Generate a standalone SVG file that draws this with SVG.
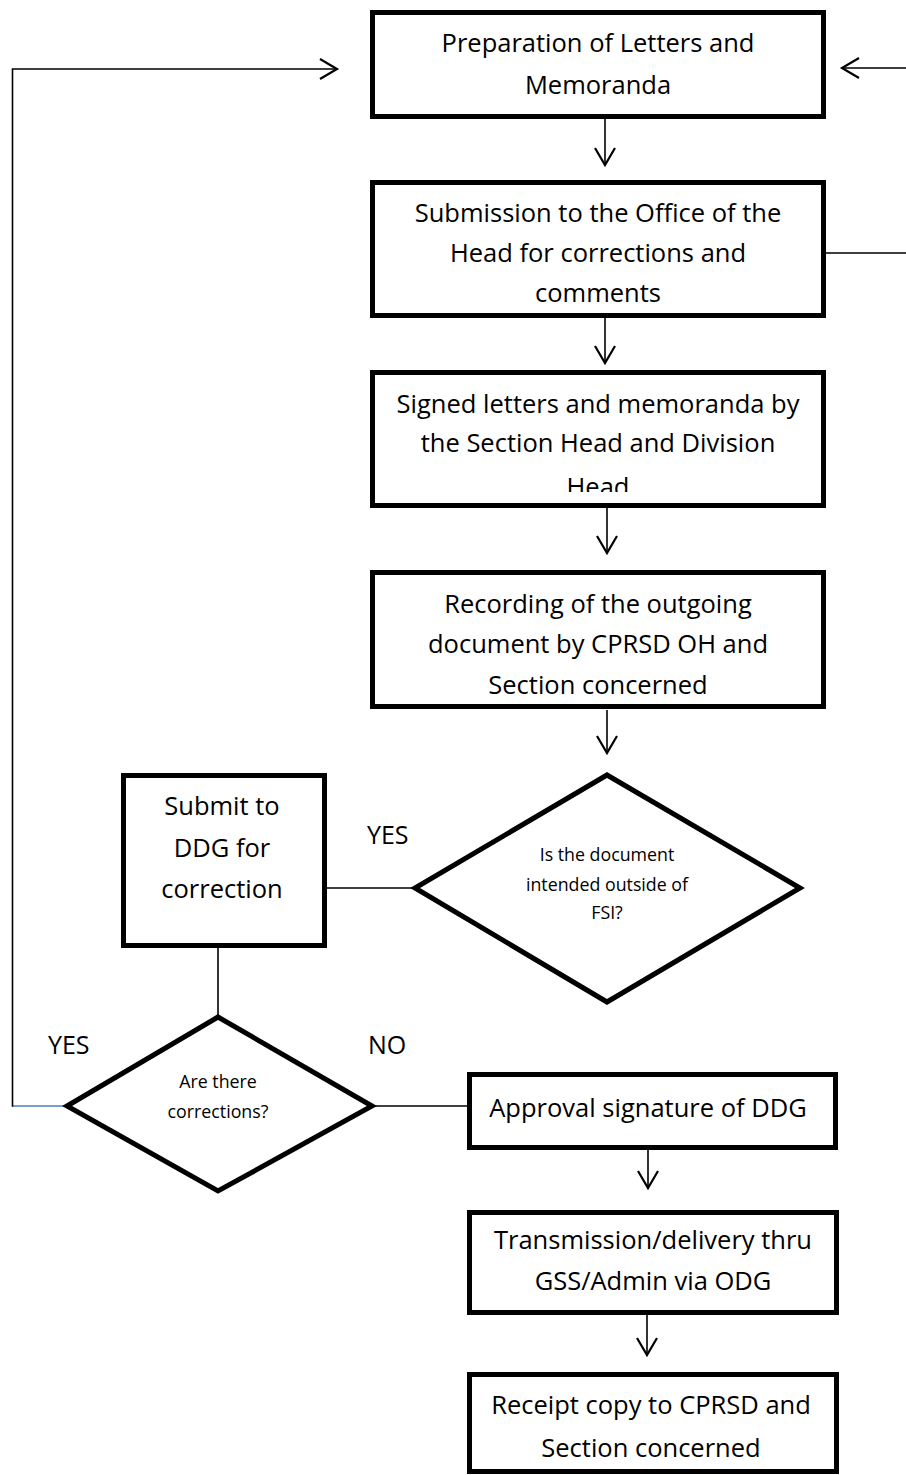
<svg xmlns="http://www.w3.org/2000/svg" width="906" height="1475" viewBox="0 0 906 1475">
  <style>
    .box { fill: #ffffff; stroke: #000000; stroke-width: 5; }
    .dia { fill: #ffffff; stroke: #000000; stroke-width: 5; stroke-linejoin: miter; }
    .lbl { font-family: "Open Sans", "Noto Sans", sans-serif; font-size: 25.5px; fill: #000000; text-anchor: middle; }
    .small { font-family: "Open Sans", "Noto Sans", sans-serif; font-size: 17.8px; fill: #000000; text-anchor: middle; }
    .tag { font-family: "Open Sans", "Noto Sans", sans-serif; font-size: 25px; fill: #000000; }
    .wire { fill: none; stroke: #000000; stroke-width: 1.6; }
    .arrow { fill: none; stroke: #000000; stroke-width: 1.6; marker-end: url(#openHead); }
  </style>
  <defs>
    <marker id="openHead" markerUnits="userSpaceOnUse" markerWidth="24" markerHeight="24" viewBox="-20 -12 24 24" refX="0" refY="0" orient="auto">
      <path d="M -17 -10 L 0 0 L -17 10" fill="none" stroke="#000000" stroke-width="2.2"/>
    </marker>
    <clipPath id="clipSigned">
      <rect x="375" y="375" width="446" height="117"/>
    </clipPath>
  </defs>

  <rect width="906" height="1475" fill="#ffffff"/>

  <!-- connectors -->
  <g id="connectors">
    <line class="arrow" x1="605" y1="119" x2="605" y2="165"/>
    <line class="arrow" x1="605" y1="318" x2="605" y2="363"/>
    <line class="arrow" x1="607" y1="508" x2="607" y2="553"/>
    <line class="arrow" x1="607" y1="710" x2="607" y2="753"/>
    <line class="arrow" x1="648" y1="1150" x2="648" y2="1188"/>
    <line class="arrow" x1="647" y1="1315" x2="647" y2="1355"/>
    <!-- feedback loop from the review box back to preparation (runs past the right edge) -->
    <polyline class="arrow" points="826,253 912,253 912,68 842,68"/>
    <!-- YES branch of the outside-FSI decision -->
    <line class="wire" x1="413" y1="888" x2="327" y2="888"/>
    <line class="wire" x1="218" y1="948" x2="218" y2="1016"/>
    <!-- NO branch to approval -->
    <line class="wire" x1="375" y1="1106" x2="467" y2="1106"/>
    <!-- YES branch back to preparation -->
    <line x1="12.5" y1="1106" x2="65" y2="1106" stroke="#4a7ebb" stroke-width="1.6"/>
    <polyline class="arrow" points="12.5,1106.8 12.5,69 337,69"/>
  </g>

  <g id="prep">
    <rect class="box" x="372.5" y="12.5" width="451" height="104"/>
    <text class="lbl" x="598" y="52">Preparation of Letters and</text>
    <text class="lbl" x="598" y="94">Memoranda</text>
  </g>

  <g id="submission">
    <rect class="box" x="372.5" y="182.5" width="451" height="133"/>
    <text class="lbl" x="598" y="222">Submission to the Office of the</text>
    <text class="lbl" x="598" y="262">Head for corrections and</text>
    <text class="lbl" x="598" y="302">comments</text>
  </g>

  <g id="signed">
    <rect class="box" x="372.5" y="372.5" width="451" height="133"/>
    <g clip-path="url(#clipSigned)">
      <text class="lbl" x="598" y="413">Signed letters and memoranda by</text>
      <text class="lbl" x="598" y="452">the Section Head and Division</text>
      <text class="lbl" x="598" y="496">Head</text>
    </g>
  </g>

  <g id="recording">
    <rect class="box" x="372.5" y="572.5" width="451" height="134"/>
    <text class="lbl" x="598" y="613">Recording of the outgoing</text>
    <text class="lbl" x="598" y="653">document by CPRSD OH and</text>
    <text class="lbl" x="598" y="694">Section concerned</text>
  </g>

  <g id="outsideFsi">
    <polygon class="dia" points="607,775 800,888 607,1002 415,888"/>
    <text class="small" x="607" y="861">Is the document</text>
    <text class="small" x="607" y="891">intended outside of</text>
    <text class="small" x="607" y="919">FSI?</text>
  </g>

  <g id="submitDdg">
    <rect class="box" x="123.5" y="775.5" width="201" height="170"/>
    <text class="lbl" x="222" y="815">Submit to</text>
    <text class="lbl" x="222" y="857">DDG for</text>
    <text class="lbl" x="222" y="898">correction</text>
  </g>

  <g id="corrections">
    <polygon class="dia" points="218,1017 372,1106 218,1191 67,1106"/>
    <text class="small" x="218" y="1088">Are there</text>
    <text class="small" x="218" y="1118">corrections?</text>
  </g>

  <g id="branchLabels">
    <text class="tag" x="367" y="844">YES</text>
    <text class="tag" x="48" y="1054">YES</text>
    <text class="tag" x="368" y="1054">NO</text>
  </g>

  <g id="approval">
    <rect class="box" x="469.5" y="1074.5" width="366" height="73"/>
    <text class="lbl" x="648" y="1117">Approval signature of DDG</text>
  </g>

  <g id="transmission">
    <rect class="box" x="469.5" y="1212.5" width="367" height="100"/>
    <text class="lbl" x="653" y="1249">Transmission/delivery thru</text>
    <text class="lbl" x="653" y="1290">GSS/Admin via ODG</text>
  </g>

  <g id="receipt">
    <rect class="box" x="469.5" y="1374.5" width="367" height="97"/>
    <text class="lbl" x="651" y="1414">Receipt copy to CPRSD and</text>
    <text class="lbl" x="651" y="1457">Section concerned</text>
  </g>
</svg>
